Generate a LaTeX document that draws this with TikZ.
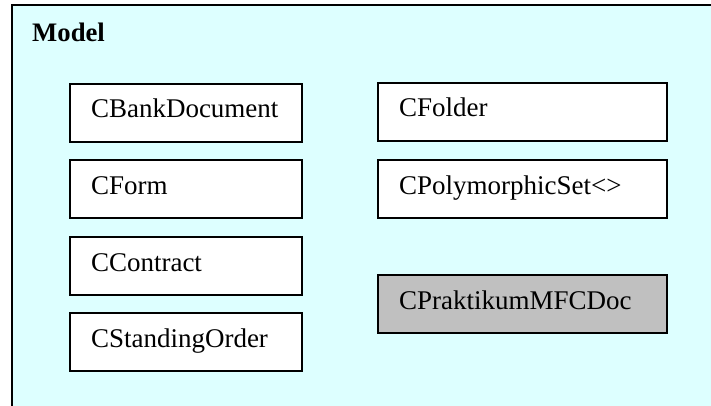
\documentclass[tikz,border=0pt]{standalone}
\usepackage{fontspec}
\setmainfont{Liberation Serif}
\definecolor{pkgfill}{RGB}{221,255,255}
\definecolor{activefill}{RGB}{192,192,192}
\tikzset{
  pkg/.style={draw=black, line width=2pt, fill=pkgfill},
  cls/.style={draw=black, line width=2pt, fill=white, rectangle, anchor=north west,
    inner xsep=21pt, inner ysep=0pt, minimum height=58pt, align=left,
    text height=19pt, text depth=9pt,
    font=\fontsize{27}{32}\selectfont},
  narrow/.style={text width=190pt},
  wide/.style={text width=247pt},
}
\begin{document}
\begin{tikzpicture}[x=1pt, y=-1pt]
  \useasboundingbox (0,0) rectangle (711,406);
  \clip (0,0) rectangle (711,406);
  % package frame, running off the right and bottom edges
  \draw[pkg] (12,5) rectangle (740,440);
  \node[anchor=base west, inner sep=0pt, font=\fontsize{26.7}{32}\selectfont\bfseries] (title) at (32,42) {Model};
  % left column of classes
  \node[cls, narrow] (bank) at (69,83) {CBankDocument};
  \node[cls, narrow] (form) at (69,159) {CForm};
  \node[cls, narrow] (contract) at (69,236) {CContract};
  \node[cls, narrow] (standing) at (69,312) {CStandingOrder};
  % right column of classes
  \node[cls, wide] (folder) at (377,82) {CFolder};
  \node[cls, wide] (polyset) at (377,159) {CPolymorphicSet<>};
  \node[cls, wide, fill=activefill] (doc) at (377,274) {CPraktikumMFCDoc};
\end{tikzpicture}
\end{document}
